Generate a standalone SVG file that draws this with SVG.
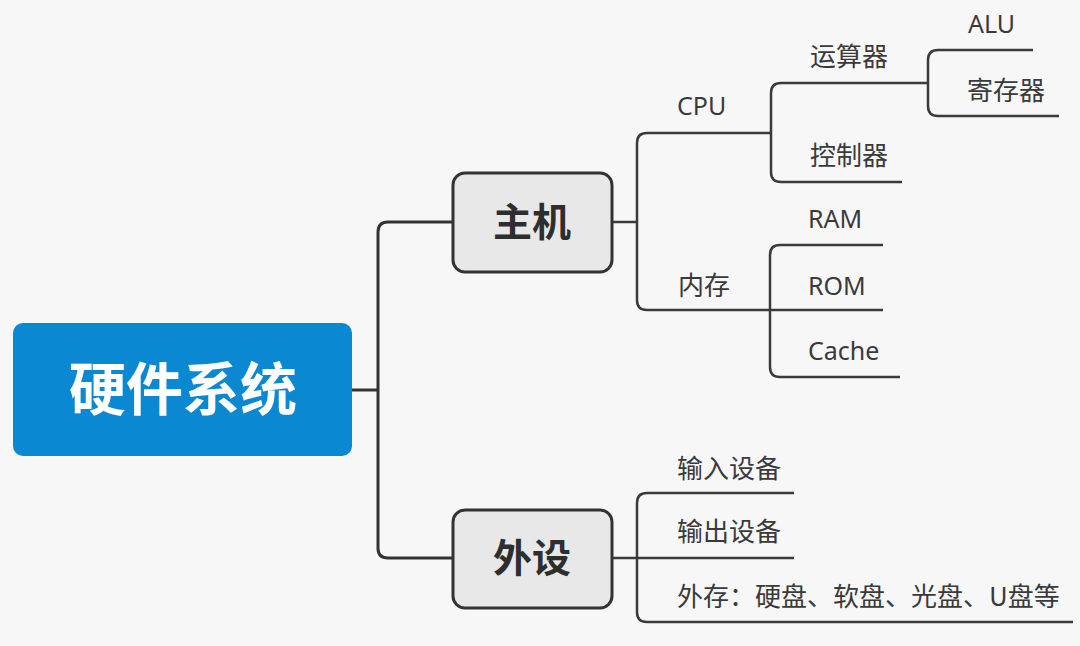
<svg xmlns="http://www.w3.org/2000/svg" width="1080" height="646" viewBox="0 0 1080 646">
<style>
.bg{fill:#f7f7f7}
.root{fill:#0a88d2}
.main{fill:#e8e8e8;stroke:#333;stroke-width:3}
.rt{font-family:"Noto Sans CJK SC",sans-serif;font-weight:700;font-size:57px;fill:#fff;text-anchor:middle}
.mt{font-family:"Noto Sans CJK SC",sans-serif;font-weight:700;font-size:39px;fill:#2e2e2e;text-anchor:middle}
.t{font-family:"Noto Sans CJK SC",sans-serif;font-size:26px;fill:#3a3a3a}
.e{font-family:"Noto Sans","Noto Sans CJK SC",sans-serif;font-size:25px;fill:#3a3a3a}
.c{fill:none;stroke:#3a3a3a;stroke-width:2.5}
.c1{fill:none;stroke:#333;stroke-width:3}
</style>
<rect class="bg" x="0" y="0" width="1080" height="646"/>
<g id="connectors">
<path class="c1" d="M352,390 H378"/>
<path class="c1" d="M453,222 H388 Q378,222 378,232 V548 Q378,558 388,558 H453"/>
<path class="c" d="M612,222 H637"/>
<path class="c" d="M771,133 H647 Q637,133 637,143 V300 Q637,310 647,310 H883"/>
<path class="c" d="M928,83 H781 Q771,83 771,93 V172 Q771,182 781,182 H902"/>
<path class="c" d="M1033,50 H938 Q928,50 928,60 V106 Q928,116 938,116 H1059"/>
<path class="c" d="M883,245 H780 Q770,245 770,255 V367 Q770,377 780,377 H900"/>
<path class="c" d="M612,558 H794"/>
<path class="c" d="M794,493 H647 Q637,493 637,503 V612 Q637,622 647,622 H1073"/>
</g>
<g id="root"><rect class="root" x="13" y="323" width="339" height="133" rx="10"/><text class="rt" x="183" y="410">硬件系统</text></g>
<g id="zhuji"><rect class="main" x="453" y="173" width="159" height="99" rx="12"/><text class="mt" x="532" y="236">主机</text></g>
<g id="waishe"><rect class="main" x="453" y="510" width="159" height="98" rx="12"/><text class="mt" x="532" y="572">外设</text></g>
<g id="cpu"><text class="e" x="677" y="115">CPU</text></g>
<g id="yunsuanqi"><text class="t" x="810" y="66">运算器</text></g>
<g id="alu"><text class="e" x="968" y="33">ALU</text></g>
<g id="jicunqi"><text class="t" x="967" y="100">寄存器</text></g>
<g id="kongzhiqi"><text class="t" x="810" y="165">控制器</text></g>
<g id="neicun"><text class="t" x="678" y="295">内存</text></g>
<g id="ram"><text class="e" x="808" y="228">RAM</text></g>
<g id="rom"><text class="e" x="808" y="295">ROM</text></g>
<g id="cache"><text class="e" x="808" y="360">Cache</text></g>
<g id="shuru"><text class="t" x="677" y="478">输入设备</text></g>
<g id="shuchu"><text class="t" x="677" y="541">输出设备</text></g>
<g id="waicun"><text class="t" x="677" y="606">外存：硬盘、软盘、光盘、U盘等</text></g>
</svg>
